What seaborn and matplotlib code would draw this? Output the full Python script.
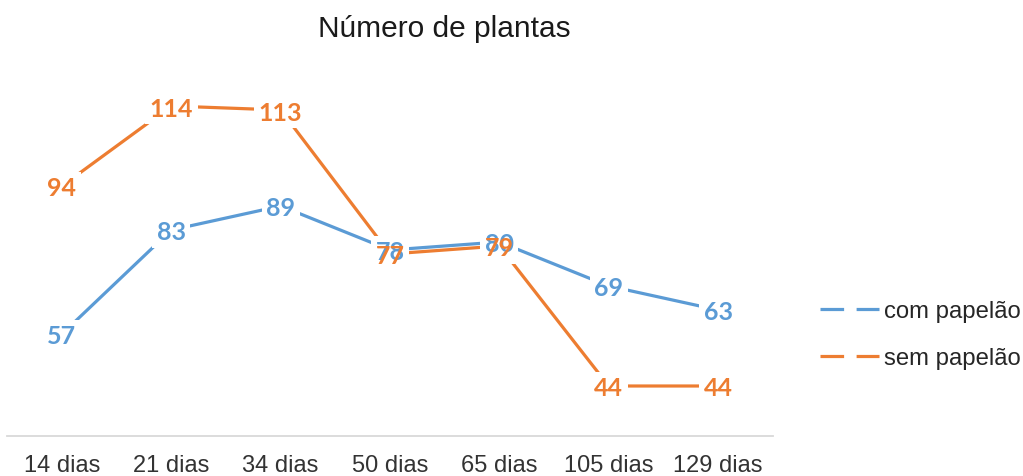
import matplotlib
matplotlib.use("Agg")
import matplotlib.pyplot as plt
import seaborn as sns
import pandas as pd
from matplotlib.lines import Line2D

categories = ["14 dias", "21 dias", "34 dias", "50 dias", "65 dias", "105 dias", "129 dias"]
com_papelao = [57, 83, 89, 78, 80, 69, 63]
sem_papelao = [94, 114, 113, 77, 79, 44, 44]
series_names = ["com papelão", "sem papelão"]
colors = ["#5B9BD5", "#ED7D31"]

sns.set_theme(style="white")
plt.rcParams["font.family"] = ["Liberation Sans", "DejaVu Sans"]
plt.rcParams["lines.scale_dashes"] = False

rows = []
for name, vals in zip(series_names, [com_papelao, sem_papelao]):
    for i, (c, v) in enumerate(zip(categories, vals)):
        rows.append({"x": i, "cat": c, "valor": v, "serie": name})
df = pd.DataFrame(rows)

fig = plt.figure(figsize=(10.23, 4.77), dpi=100)
ax = fig.add_axes([7.3 / 1023, 40 / 477, (772.7 - 7.3) / 1023, 374 / 477])

sns.lineplot(data=df, x="x", y="valor", hue="serie", palette=colors,
             linewidth=2.3, ax=ax, legend=False, sort=False, zorder=2)

ax.set_xlim(-0.5, len(categories) - 0.5)
ax.set_ylim(31.5, 125)
ax.set_xticks(range(len(categories)))
ax.set_xticklabels(categories, fontsize=17, color="#333333")
ax.set_yticks([])
ax.set_xlabel("")
ax.set_ylabel("")
ax.tick_params(axis="x", length=0, pad=13)
for s in ["top", "right", "left"]:
    ax.spines[s].set_visible(False)
ax.spines["bottom"].set_color("#D9D9D9")
ax.spines["bottom"].set_linewidth(1.3)

label_font = ["Lato", "DejaVu Sans"]
label_size = 18
# white boxes first (cut the lines), then coloured text on top
for vals in [com_papelao, sem_papelao]:
    for i, v in enumerate(vals):
        ax.text(i, v, str(v), ha="center", va="center_baseline", fontsize=label_size,
                fontweight="bold", family=label_font, color="white", zorder=3,
                bbox=dict(boxstyle="square,pad=0.18", fc="white", ec="none"))
for vals, col in zip([com_papelao, sem_papelao], colors):
    for i, v in enumerate(vals):
        ax.text(i, v, str(v), ha="center", va="center_baseline", fontsize=label_size,
                fontweight="bold", family=label_font, color=col, zorder=4)

fig.text(444 / 1023, 1 - 29 / 477, "Número de plantas", ha="center", va="center",
         fontsize=21.5, color="#1a1a1a")

handles = [Line2D([0], [0], color=c, linewidth=2.3, dashes=(17, 9)) for c in colors]
fig.legend(handles, series_names, loc="center left",
           bbox_to_anchor=(820 / 1023, 1 - 335.5 / 477), frameon=False,
           fontsize=17.2, labelcolor="#262626", handlelength=2.45,
           handletextpad=0.25, labelspacing=1.05, borderpad=0, borderaxespad=0)

fig.savefig("out.png", dpi=100)
